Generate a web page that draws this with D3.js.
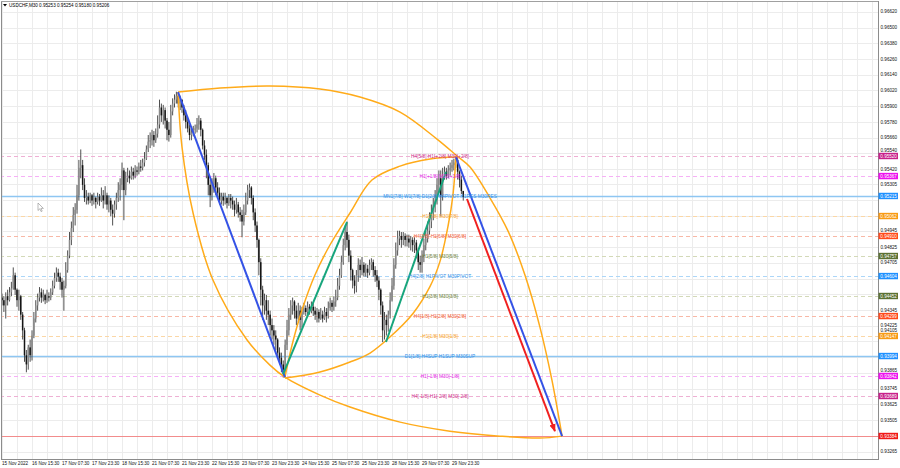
<!DOCTYPE html>
<html><head><meta charset="utf-8">
<script src="https://cdn.jsdelivr.net/npm/d3@7/dist/d3.min.js"></script>
<style>body{margin:0;background:#fff;}svg{display:block;font-family:"Liberation Sans",Arial,sans-serif;}</style>
</head><body><svg id="c" width="900" height="468"></svg>
<script>
// ---------- DATA ----------
const symbol = "USDCHF,M30";
const quote = ["0.95253", "0.95254", "0.95180", "0.95206"];
// time labels, one every 16 trading hours (hourly candles below)
const timeLabels = ["15 Nov 2022","16 Nov 15:30","17 Nov 07:30","17 Nov 23:30","18 Nov 15:30","21 Nov 07:30","21 Nov 23:30","22 Nov 15:30","23 Nov 07:30","23 Nov 23:30","24 Nov 15:30","25 Nov 07:30","25 Nov 23:30","28 Nov 15:30","29 Nov 07:30","29 Nov 23:30"];
const hoursPerLabel = 16;
const priceTicks = [0.96620,0.96500,0.96380,0.96260,0.96140,0.96020,0.95900,0.95780,0.95660,0.95540,0.95420,0.95305,0.94945,0.94825,0.94705,0.94345,0.94225,0.94105,0.93865,0.93745,0.93625,0.93505,0.93265];
const gridPrices = [0.96620,0.96500,0.96380,0.96260,0.96140,0.96020,0.95900,0.95780,0.95660,0.95540,0.95420,0.95305,0.95185,0.95065,0.94945,0.94825,0.94705,0.94585,0.94465,0.94345,0.94225,0.94105,0.93985,0.93865,0.93745,0.93625,0.93505,0.93385,0.93265];

const open = [0.9444,0.9442,0.9438,0.9445,0.9442,0.9448,0.9451,0.9461,0.9450,0.9442,
0.9445,0.9431,0.9419,0.9400,0.9393,0.9406,0.9400,0.9415,0.9428,0.9438,
0.9444,0.9448,0.9444,0.9446,0.9442,0.9445,0.9444,0.9448,0.9453,0.9459,
0.9463,0.9460,0.9456,0.9450,0.9453,0.9465,0.9476,0.9488,0.9497,0.9507,
0.9511,0.9522,0.9543,0.9545,0.9530,0.9520,0.9521,0.9518,0.9522,0.9518,
0.9520,0.9517,0.9521,0.9518,0.9522,0.9518,0.9522,0.9515,0.9518,0.9511,
0.9508,0.9515,0.9520,0.9526,0.9530,0.9541,0.9526,0.9535,0.9537,0.9535,
0.9540,0.9537,0.9541,0.9540,0.9544,0.9543,0.9547,0.9550,0.9557,0.9563,
0.9564,0.9568,0.9564,0.9569,0.9576,0.9589,0.9583,0.9587,0.9579,0.9572,
0.9568,0.9586,0.9592,0.9595,0.9598,0.9592,0.9595,0.9589,0.9583,0.9578,
0.9573,0.9568,0.9570,0.9572,0.9573,0.9576,0.9579,0.9572,0.9560,0.9553,
0.9545,0.9530,0.9522,0.9530,0.9535,0.9528,0.9524,0.9518,0.9521,0.9518,
0.9520,0.9516,0.9520,0.9518,0.9515,0.9511,0.9515,0.9509,0.9507,0.9502,
0.9509,0.9518,0.9526,0.9528,0.9520,0.9509,0.9499,0.9488,0.9471,0.9450,
0.9438,0.9442,0.9434,0.9431,0.9423,0.9419,0.9415,0.9412,0.9402,0.9398,
0.9393,0.9389,0.9408,0.9419,0.9431,0.9438,0.9441,0.9434,0.9428,0.9434,
0.9427,0.9433,0.9436,0.9433,0.9437,0.9434,0.9437,0.9434,0.9431,0.9433,
0.9428,0.9431,0.9428,0.9433,0.9430,0.9436,0.9440,0.9437,0.9441,0.9444,
0.9453,0.9461,0.9471,0.9484,0.9494,0.9488,0.9476,0.9465,0.9457,0.9453,
0.9461,0.9469,0.9465,0.9469,0.9463,0.9466,0.9463,0.9469,0.9471,0.9465,
0.9461,0.9457,0.9450,0.9438,0.9419,0.9427,0.9423,0.9431,0.9442,0.9453,
0.9469,0.9480,0.9489,0.9491,0.9488,0.9491,0.9488,0.9489,0.9486,0.9488,
0.9484,0.9486,0.9480,0.9471,0.9469,0.9476,0.9484,0.9489,0.9495,0.9502,
0.9509,0.9515,0.9518,0.9530,0.9535,0.9522,0.9537,0.9540,0.9537,0.9541,
0.9543,0.9545,0.9547,0.9549,0.9540,0.9534,0.95253];
const high = [0.9447,0.9445,0.9448,0.9450,0.9452,0.9456,0.9467,0.9463,0.9451,0.9450,
0.9446,0.9433,0.9421,0.9404,0.9408,0.9412,0.9419,0.9433,0.9442,0.9447,
0.9452,0.9451,0.9450,0.9447,0.9450,0.9448,0.9451,0.9457,0.9463,0.9467,
0.9466,0.9463,0.9459,0.9457,0.9471,0.9480,0.9494,0.9502,0.9513,0.9516,
0.9530,0.9549,0.9557,0.9549,0.9535,0.9526,0.9524,0.9524,0.9523,0.9524,
0.9521,0.9524,0.9523,0.9528,0.9526,0.9529,0.9524,0.9522,0.9520,0.9515,
0.9518,0.9524,0.9532,0.9535,0.9547,0.9543,0.9540,0.9543,0.9541,0.9544,
0.9543,0.9545,0.9544,0.9547,0.9549,0.9550,0.9555,0.9560,0.9568,0.9570,
0.9572,0.9571,0.9573,0.9583,0.9595,0.9592,0.9591,0.9589,0.9581,0.9578,
0.9591,0.9596,0.9599,0.9601,0.9600,0.9598,0.9595,0.9591,0.9587,0.9581,
0.9576,0.9574,0.9575,0.9576,0.9581,0.9583,0.9581,0.9573,0.9564,0.9557,
0.9547,0.9534,0.9535,0.9539,0.9537,0.9532,0.9528,0.9524,0.9524,0.9524,
0.9521,0.9523,0.9523,0.9521,0.9518,0.9520,0.9517,0.9513,0.9511,0.9515,
0.9524,0.9530,0.9531,0.9529,0.9522,0.9512,0.9502,0.9489,0.9474,0.9453,
0.9447,0.9446,0.9442,0.9434,0.9428,0.9423,0.9419,0.9413,0.9406,0.9402,
0.9396,0.9412,0.9427,0.9436,0.9442,0.9444,0.9442,0.9438,0.9440,0.9438,
0.9437,0.9440,0.9438,0.9441,0.9439,0.9441,0.9440,0.9437,0.9436,0.9435,
0.9436,0.9434,0.9437,0.9436,0.9441,0.9444,0.9442,0.9445,0.9450,0.9459,
0.9466,0.9476,0.9489,0.9499,0.9502,0.9492,0.9480,0.9466,0.9461,0.9465,
0.9474,0.9473,0.9475,0.9471,0.9470,0.9469,0.9473,0.9474,0.9473,0.9468,
0.9465,0.9460,0.9451,0.9441,0.9433,0.9431,0.9434,0.9448,0.9459,0.9474,
0.9486,0.9495,0.9495,0.9494,0.9494,0.9493,0.9492,0.9492,0.9491,0.9490,
0.9490,0.9488,0.9482,0.9476,0.9480,0.9489,0.9495,0.9502,0.9509,0.9515,
0.9520,0.9526,0.9535,0.9541,0.9541,0.9543,0.9544,0.9543,0.9545,0.9547,
0.9549,0.9550,0.9552,0.9551,0.9541,0.9537,0.95254];
const low = [0.9438,0.9433,0.9428,0.9438,0.9441,0.9445,0.9450,0.9446,0.9437,0.9434,
0.9427,0.9412,0.9395,0.9387,0.9389,0.9395,0.9396,0.9413,0.9425,0.9434,
0.9441,0.9440,0.9441,0.9439,0.9440,0.9441,0.9442,0.9446,0.9451,0.9456,
0.9456,0.9450,0.9444,0.9434,0.9451,0.9463,0.9474,0.9484,0.9494,0.9499,
0.9508,0.9518,0.9535,0.9526,0.9517,0.9515,0.9515,0.9516,0.9514,0.9515,
0.9512,0.9515,0.9514,0.9517,0.9512,0.9515,0.9511,0.9509,0.9506,0.9499,
0.9505,0.9511,0.9517,0.9518,0.9526,0.9503,0.9522,0.9532,0.9531,0.9534,
0.9534,0.9535,0.9537,0.9538,0.9540,0.9541,0.9544,0.9549,0.9555,0.9558,
0.9560,0.9559,0.9562,0.9566,0.9573,0.9578,0.9576,0.9573,0.9564,0.9563,
0.9566,0.9583,0.9589,0.9592,0.9589,0.9587,0.9585,0.9579,0.9573,0.9570,
0.9564,0.9564,0.9567,0.9569,0.9570,0.9572,0.9567,0.9557,0.9549,0.9535,
0.9522,0.9513,0.9518,0.9524,0.9522,0.9520,0.9515,0.9515,0.9514,0.9515,
0.9512,0.9514,0.9512,0.9511,0.9506,0.9508,0.9505,0.9502,0.9490,0.9499,
0.9507,0.9515,0.9520,0.9515,0.9503,0.9494,0.9482,0.9461,0.9438,0.9427,
0.9431,0.9427,0.9423,0.9415,0.9412,0.9408,0.9404,0.9398,0.9393,0.9387,
0.9383,0.9384,0.9404,0.9415,0.9427,0.9431,0.9428,0.9423,0.9425,0.9419,
0.9421,0.9431,0.9430,0.9431,0.9431,0.9432,0.9430,0.9427,0.9425,0.9425,
0.9427,0.9425,0.9427,0.9425,0.9428,0.9434,0.9433,0.9434,0.9437,0.9442,
0.9450,0.9459,0.9469,0.9480,0.9482,0.9471,0.9457,0.9451,0.9447,0.9448,
0.9456,0.9459,0.9461,0.9460,0.9460,0.9459,0.9461,0.9465,0.9460,0.9456,
0.9452,0.9442,0.9431,0.9410,0.9412,0.9415,0.9418,0.9428,0.9441,0.9450,
0.9466,0.9476,0.9484,0.9482,0.9484,0.9483,0.9483,0.9482,0.9480,0.9479,
0.9478,0.9474,0.9465,0.9463,0.9463,0.9471,0.9480,0.9486,0.9492,0.9497,
0.9503,0.9509,0.9515,0.9524,0.9506,0.9518,0.9534,0.9534,0.9535,0.9537,
0.9540,0.9541,0.9543,0.9534,0.9528,0.9523,0.95180];
const close = [0.9442,0.9438,0.9445,0.9442,0.9448,0.9451,0.9461,0.9450,0.9442,0.9445,
0.9431,0.9419,0.9400,0.9393,0.9406,0.9400,0.9415,0.9428,0.9438,0.9444,
0.9448,0.9444,0.9446,0.9442,0.9445,0.9444,0.9448,0.9453,0.9459,0.9463,
0.9460,0.9456,0.9450,0.9453,0.9465,0.9476,0.9488,0.9497,0.9507,0.9511,
0.9522,0.9543,0.9545,0.9530,0.9520,0.9521,0.9518,0.9522,0.9518,0.9520,
0.9517,0.9521,0.9518,0.9522,0.9518,0.9522,0.9515,0.9518,0.9511,0.9508,
0.9515,0.9520,0.9526,0.9530,0.9541,0.9526,0.9535,0.9537,0.9535,0.9540,
0.9537,0.9541,0.9540,0.9544,0.9543,0.9547,0.9550,0.9557,0.9563,0.9564,
0.9568,0.9564,0.9569,0.9576,0.9589,0.9583,0.9587,0.9579,0.9572,0.9568,
0.9586,0.9592,0.9595,0.9598,0.9592,0.9595,0.9589,0.9583,0.9578,0.9573,
0.9568,0.9570,0.9572,0.9573,0.9576,0.9579,0.9572,0.9560,0.9553,0.9545,
0.9530,0.9522,0.9530,0.9535,0.9528,0.9524,0.9518,0.9521,0.9518,0.9520,
0.9516,0.9520,0.9518,0.9515,0.9511,0.9515,0.9509,0.9507,0.9502,0.9509,
0.9518,0.9526,0.9528,0.9520,0.9509,0.9499,0.9488,0.9471,0.9450,0.9438,
0.9442,0.9434,0.9431,0.9423,0.9419,0.9415,0.9412,0.9402,0.9398,0.9393,
0.9389,0.9408,0.9419,0.9431,0.9438,0.9441,0.9434,0.9428,0.9434,0.9427,
0.9433,0.9436,0.9433,0.9437,0.9434,0.9437,0.9434,0.9431,0.9433,0.9428,
0.9431,0.9428,0.9433,0.9430,0.9436,0.9440,0.9437,0.9441,0.9444,0.9453,
0.9461,0.9471,0.9484,0.9494,0.9488,0.9476,0.9465,0.9457,0.9453,0.9461,
0.9469,0.9465,0.9469,0.9463,0.9466,0.9463,0.9469,0.9471,0.9465,0.9461,
0.9457,0.9450,0.9438,0.9419,0.9427,0.9423,0.9431,0.9442,0.9453,0.9469,
0.9480,0.9489,0.9491,0.9488,0.9491,0.9488,0.9489,0.9486,0.9488,0.9484,
0.9486,0.9480,0.9471,0.9469,0.9476,0.9484,0.9489,0.9495,0.9502,0.9509,
0.9515,0.9518,0.9530,0.9535,0.9522,0.9537,0.9540,0.9537,0.9541,0.9543,
0.9545,0.9547,0.9549,0.9540,0.9534,0.95253,0.95206];

// Murrey-math style levels
const levelValues = [0.95520,0.95367,0.95215,0.95062,0.94910,0.94757,0.94604,0.94452,0.94299,0.94147,0.93994,0.93842,0.93689,0.93384];
const levelLabels = ["H4[5/8] H1[+2/8] M30[+2/8]","H1[+1/8] M30[+1/8]","MN1[7/8] W1[7/8] D1[2/8] H4PIVOT H1RES M30RES","H1[7/8] M30[7/8]","H4[3/8] H1[6/8] M30[6/8]","H1[5/8] M30[5/8]","H4[2/8] H1PIVOT M30PIVOT","H1[3/8] M30[3/8]","H4[1/8] H1[2/8] M30[2/8]","H1[1/8] M30[1/8]","D1[1/8] H4SUP H1SUP M30SUP","H1[-1/8] M30[-1/8]","H4[-1/8] H1[-2/8] M30[-2/8]",""];
const levelGroups = ["violet","magenta","blueSolid","orange","orangered","olive","blue","olive","orangered","orange","blueSolid","magenta","violet","red"];

// drawn objects: [candle index (hours), price]
const legDown1 = [[93.9,0.96008],[150.9,0.93833]];
const legUp1 = [[149.9,0.93856],[184.0,0.95016]];
const legUp2 = [[204.8,0.94101],[236.8,0.95398]];
const legDown2 = [[242.1,0.95512],[298.7,0.93383]];
const forecast = [[248.0,0.95192],[294.9,0.93421]];
const arcTop = [[93.9,0.96008],[116.3,0.96039],[142.9,0.96054],[169.6,0.96031],[190.9,0.95970],[212.3,0.95855],[232.0,0.95649],[242.7,0.95520],[249.6,0.95436],[260.3,0.95199],[269.9,0.94947],[278.9,0.94612],[286.9,0.94215],[293.3,0.93811],[298.7,0.93383]];
const arcLeft = [[93.9,0.96008],[96.0,0.95588],[101.9,0.95085],[112.5,0.94574],[130.7,0.94116],[142.9,0.93925],[150.9,0.93833],[169.6,0.93696],[185.6,0.93605],[212.3,0.93490],[238.9,0.93421],[265.6,0.93383],[286.9,0.93368],[298.7,0.93383]];
const arcUpper = [[150.9,0.93833],[154.7,0.94078],[160.0,0.94345],[166.9,0.94612],[174.9,0.94841],[185.6,0.95085],[197.3,0.95337],[212.3,0.95443],[228.3,0.95497],[242.1,0.95512]];
const arcLower = [[150.9,0.93826],[169.6,0.93872],[185.6,0.93948],[196.3,0.94017],[206.9,0.94139],[219.2,0.94319],[228.3,0.94525],[233.6,0.94716],[237.9,0.94986],[240.5,0.95222],[242.1,0.95512]];

// ---------- STYLE ----------
const groupStyle = {
  violet:{line:"#eeb0d4", text:"#cf2f8a", tag:"#c8208a", dash:"4,3", w:1},
  magenta:{line:"#f6b0f6", text:"#e22ce2", tag:"#ee11ee", dash:"4,3", w:1},
  blueSolid:{line:"#8ec6f2", text:"#2f8fe8", tag:"#1e90ff", dash:null, w:1.6},
  orange:{line:"#fbd7a6", text:"#f5a030", tag:"#f89a14", dash:"4,3", w:1},
  orangered:{line:"#f8b8a6", text:"#f0603a", tag:"#ff4a1a", dash:"4,3", w:1},
  olive:{line:"#d3d9b8", text:"#6d7f45", tag:"#5b7132", dash:"4,3", w:1},
  blue:{line:"#acd6f8", text:"#3a95ea", tag:"#1e90ff", dash:"4,3", w:1},
  red:{line:"#f28c8c", text:"#ff0000", tag:"#f01818", dash:null, w:1}
};

const svg = d3.select("#c");
const plotL = 1.5, plotR = 878, plotT = 1.5, plotB = 459;
const x = d3.scaleLinear().domain([0, 240]).range([2, 452]);
const y = d3.scaleLinear().domain([0.95520, 0.93384]).range([156, 436]);
const crisp = v => Math.round(v) + 0.5;

svg.append("rect").attr("width",900).attr("height",468).attr("fill","#fff");
const defs = svg.append("defs");
defs.append("clipPath").attr("id","clip").append("rect")
  .attr("x",plotL).attr("y",plotT).attr("width",plotR-plotL).attr("height",plotB-plotT);
defs.append("marker").attr("id","arrow").attr("viewBox","0 0 10 10").attr("refX",9).attr("refY",5)
  .attr("markerWidth",4).attr("markerHeight",4).attr("orient","auto")
  .append("path").attr("d","M0,1 L10,5 L0,9 z").attr("fill","#f02020");

const g = svg.append("g").attr("clip-path","url(#clip)");

// grid
const vIdx = d3.range(0, 480, hoursPerLabel/2);
g.selectAll(".vg").data(vIdx).join("line")
  .attr("x1",d=>crisp(x(d))).attr("x2",d=>crisp(x(d))).attr("y1",plotT).attr("y2",plotB)
  .attr("stroke","#ececec").attr("stroke-width",1);
g.selectAll(".hg").data(gridPrices).join("line")
  .attr("x1",plotL).attr("x2",plotR).attr("y1",d=>crisp(y(d))).attr("y2",d=>crisp(y(d)))
  .attr("stroke","#ececec").attr("stroke-width",1);

// level lines
const lv = levelValues.map((v,i)=>({v, label:levelLabels[i], s:groupStyle[levelGroups[i]]}));
g.selectAll(".lvl").data(lv).join("line")
  .attr("x1",0).attr("x2",plotR).attr("y1",d=>crisp(y(d.v))).attr("y2",d=>crisp(y(d.v)))
  .attr("stroke",d=>d.s.line).attr("stroke-width",d=>d.s.w)
  .attr("stroke-dasharray",d=>d.s.dash);

// candles
const bars = close.map((c,i)=>({i, o:open[i], h:high[i], l:low[i], c}));
g.selectAll(".wick").data(bars).join("line")
  .attr("x1",d=>x(d.i)).attr("x2",d=>x(d.i)).attr("y1",d=>y(d.h)).attr("y2",d=>y(d.l))
  .attr("stroke","#3c3c3c").attr("stroke-width",0.9);
g.selectAll(".body").data(bars).join("rect")
  .attr("x",d=>x(d.i)-0.75).attr("width",1.5)
  .attr("y",d=>y(Math.max(d.o,d.c)))
  .attr("height",d=>Math.max(0.8, Math.abs(y(d.o)-y(d.c))))
  .attr("fill",d=>d.c>=d.o?"#8a8a8a":"#151515");

// arcs
const curve = d3.line().x(d=>x(d[0])).y(d=>y(d[1])).curve(d3.curveCatmullRom.alpha(0.5));
[arcTop, arcLeft, arcUpper, arcLower].forEach(a=>{
  g.append("path").attr("d",curve(a)).attr("fill","none").attr("stroke","#ffab1a").attr("stroke-width",1.5);
});
// trend lines
const seg = d3.line().x(d=>x(d[0])).y(d=>y(d[1]));
[[legDown1,"#3452e6"],[legDown2,"#3452e6"],[legUp1,"#17a57c"],[legUp2,"#17a57c"]].forEach(([d,c])=>{
  g.append("path").attr("d",seg(d)).attr("fill","none").attr("stroke",c).attr("stroke-width",2);
});
g.append("path").attr("d",seg(forecast)).attr("fill","none").attr("stroke","#f02020")
  .attr("stroke-width",2).attr("marker-end","url(#arrow)");

// level labels
g.selectAll(".lt").data(lv.filter(d=>d.label)).join("text")
  .attr("x",440).attr("y",d=>y(d.v)).attr("dy","0.35em").attr("text-anchor","middle")
  .attr("font-size",4.8).attr("fill",d=>d.s.text).text(d=>d.label);

// cursor
svg.append("path").attr("d","M38,203 l0,7.5 l1.8,-1.7 l1.3,2.8 l1.1,-0.5 l-1.3,-2.7 l2.5,0 z")
  .attr("fill","#fff").attr("stroke","#8a8a8a").attr("stroke-width",0.6);

// borders
svg.append("line").attr("x1",1.5).attr("x2",1.5).attr("y1",1).attr("y2",plotB).attr("stroke","#8c8c8c");
svg.append("line").attr("x1",1).attr("x2",plotR).attr("y1",1.5).attr("y2",1.5).attr("stroke","#a0a0a0");
svg.append("line").attr("x1",plotR+0.5).attr("x2",plotR+0.5).attr("y1",1).attr("y2",plotB).attr("stroke","#8c8c8c");
svg.append("line").attr("x1",1).attr("x2",plotR+1).attr("y1",plotB+0.5).attr("y2",plotB+0.5).attr("stroke","#8c8c8c");

// title
svg.append("path").attr("d","M3,4 L7,4 L5,6.5 z").attr("fill","#000");
svg.append("text").attr("x",9).attr("y",6.6).attr("font-size",4.6).attr("fill","#000")
  .text(symbol + "  " + quote.join(" "));

// price axis: a label that would sit under a price tag is lifted just above it
const tagYs = levelValues.map(v=>y(v));
const labelY = v => {
  const py = y(v);
  const near = tagYs.find(t => Math.abs(t - py) < 5.6);
  return near === undefined ? py : near - 5.8;
};
svg.selectAll(".pt").data(priceTicks).join("text")
  .attr("x",880.5).attr("y",d=>labelY(d)).attr("dy","0.35em").attr("font-size",4.6).attr("fill","#111")
  .text(d=>d.toFixed(5));
// time axis
svg.selectAll(".tt").data(timeLabels).join("text")
  .attr("x",(d,i)=>x(i*hoursPerLabel)).attr("y",465).attr("font-size",4.6).attr("fill","#111")
  .text(d=>d);

// price tags
const tags = svg.selectAll(".tag").data(lv).join("g");
tags.append("rect").attr("x",878.5).attr("width",19.5).attr("y",d=>y(d.v)-3.2).attr("height",6.4)
  .attr("fill",d=>d.s.tag);
tags.append("text").attr("x",880.3).attr("y",d=>y(d.v)).attr("dy","0.35em").attr("font-size",4.6)
  .attr("fill","#fff").text(d=>d.v.toFixed(5));
</script></body></html>
